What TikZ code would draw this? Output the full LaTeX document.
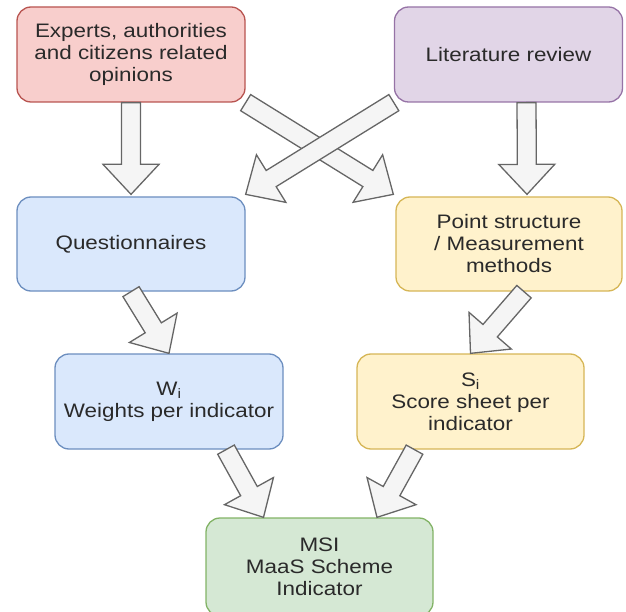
\documentclass[tikz,border=0pt]{standalone}
\usepackage{fontspec}
\setmainfont{Liberation Sans}[FakeStretch=1.15]
\usetikzlibrary{calc}

\definecolor{redfill}{HTML}{F8CECC}\definecolor{redline}{HTML}{B85450}
\definecolor{purfill}{HTML}{E1D5E7}\definecolor{purline}{HTML}{9673A6}
\definecolor{bluefill}{HTML}{DAE8FC}\definecolor{blueline}{HTML}{6C8EBF}
\definecolor{yelfill}{HTML}{FFF2CC}\definecolor{yelline}{HTML}{D6B656}
\definecolor{grnfill}{HTML}{D5E8D4}\definecolor{grnline}{HTML}{82B366}
\definecolor{arrfill}{HTML}{F5F5F5}\definecolor{arrline}{HTML}{666666}
\definecolor{txt}{HTML}{2A2A2A}

% Block arrow: tail, tip; shaft half-width 9.5, head half-width 28, head length 30
\newcommand\blockarrow[2]{%
  \coordinate (ba-base) at ($(#2)!30pt!(#1)$);
  \draw[fatarrow]
    ($(#1)!9.5pt!90:(#2)$) -- ($(ba-base)!9.5pt!90:(#2)$) --
    ($(ba-base)!28pt!90:(#2)$) -- (#2) --
    ($(ba-base)!28pt!-90:(#2)$) -- ($(ba-base)!9.5pt!-90:(#2)$) --
    ($(#1)!9.5pt!-90:(#2)$) -- cycle;
}

\begin{document}
\begin{tikzpicture}[x=1pt,y=-1pt,
  box/.style={draw, line width=1.3pt, rounded corners=14pt, inner sep=0pt,
    minimum width=228pt, minimum height=95pt, align=center, text=txt,
    font=\fontsize{19.5}{22}\selectfont},
  fatarrow/.style={draw=arrline, fill=arrfill, line width=1.3pt, line join=miter}]
\useasboundingbox (0,0) rectangle (626,612);

% boxes
\node[box, fill=redfill, draw=redline] (exp) at (131,54.5)
  {Experts, authorities\\and citizens related\\opinions};
\node[box, fill=purfill, draw=purline] (lit) at (508.5,54.5) {Literature review};
\node[box, fill=bluefill, draw=blueline, minimum height=94pt] (quest) at (131,244) {Questionnaires};
\node[box, fill=yelfill, draw=yelline, minimum height=94pt, minimum width=226pt] (point) at (509,244)
  {Point structure\\/ Measurement\\methods};
\node[box, fill=bluefill, draw=blueline] (wi) at (169,401.5)
  {W\textsubscript{i}\\Weights per indicator};
\node[box, fill=yelfill, draw=yelline, minimum width=227pt] (si) at (470.5,401.5)
  {S\textsubscript{i}\\Score sheet per\\indicator};
\node[box, fill=grnfill, draw=grnline, minimum height=98pt, minimum width=227pt] (msi) at (319.5,567)
  {MSI\\MaaS Scheme\\Indicator};

% arrow end points
\coordinate (litout) at ($(lit.south)+(18,0)$);
\coordinate (pointin) at ($(point.north)+(18,-2)$);
\coordinate (pointout) at ($(point.south)+(15,0)$);
\coordinate (wiout) at ($(wi.south)+(57,0)$);
\coordinate (siout) at ($(si.south)+(-56,0)$);
\coordinate (msil) at ($(msi.north)+(-56,0)$);
\coordinate (msir) at ($(msi.north)+(57.5,0)$);
\coordinate (questin) at ($(quest.north)+(0,-2)$);
\coordinate (pointnw) at ($(point.north west)+(-2,-2)$);
\coordinate (questne) at ($(quest.north east)+(0,-2)$);

% arrows
\blockarrow{exp.south}{questin}
\blockarrow{litout}{pointin}
\blockarrow{exp.south east}{pointnw}
\blockarrow{lit.south west}{questne}
\blockarrow{quest.south}{wi.north}
\blockarrow{pointout}{si.north}
\blockarrow{wiout}{msil}
\blockarrow{siout}{msir}
\end{tikzpicture}
\end{document}
